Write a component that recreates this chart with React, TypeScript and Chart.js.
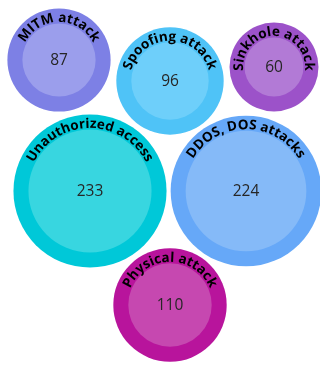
import React, { useEffect, useRef } from "react";
import { Chart, registerables } from "chart.js";

Chart.register(...registerables);

const categories = [
  "MITM attack",
  "Spoofing attack",
  "Sinkhole attack",
  "Unauthorized access",
  "DDOS, DOS attacks",
  "Physical attack",
];
const values = [87, 96, 60, 233, 224, 110];
// bubble layout positions (chart units)
const posX = [59, 170, 274, 90, 246, 170];
const posY = [60, 81, 67, 191, 191, 305];
const outerColors = ["#7d80e5", "#4fc3f7", "#9c52c9", "#00c8d8", "#66a8f8", "#b8149c"];
const innerColors = ["#9b9eec", "#6ecffa", "#b27ad6", "#38d6e0", "#85baf8", "#c648b0"];

const SIZE_K = 8.65;
const RING = 15;
const outerR = (v: number) => SIZE_K * Math.pow(v, 0.4);

const labelPlugin = {
  id: "bubbleLabels",
  afterDatasetsDraw(chart: any) {
    const ctx = chart.ctx;
    const meta = chart.getDatasetMeta(1);
    meta.data.forEach((el: any, i: number) => {
      const cx = el.x;
      const cy = el.y;
      const R = outerR(values[i]);
      // value
      ctx.save();
      ctx.fillStyle = "#262626";
      ctx.font = "15.5px 'Open Sans'";
      ctx.textAlign = "center";
      ctx.textBaseline = "middle";
      ctx.fillText(String(values[i]), cx, cy + 1);
      ctx.restore();
      // curved label
      const text = categories[i];
      ctx.save();
      ctx.fillStyle = "#000";
      ctx.font = "bold 13.5px 'Open Sans'";
      ctx.textAlign = "center";
      ctx.textBaseline = "alphabetic";
      const rad = R - 13.5;
      const spacing = 0;
      const widths = Array.from(text).map((ch) => ctx.measureText(ch).width + spacing);
      const total = widths.reduce((a, b) => a + b, 0);
      let acc = -total / 2;
      Array.from(text).forEach((ch, k) => {
        const ang = (acc + widths[k] / 2) / rad;
        ctx.save();
        ctx.translate(cx, cy);
        ctx.rotate(ang);
        ctx.fillText(ch, 0, -rad);
        ctx.restore();
        acc += widths[k];
      });
      ctx.restore();
    });
  },
};

export default function App() {
  const ref = useRef<HTMLCanvasElement | null>(null);
  useEffect(() => {
    if (!ref.current) return;
    const outerData = values.map((v, i) => ({ x: posX[i], y: posY[i], r: outerR(v) }));
    const innerData = values.map((v, i) => ({ x: posX[i], y: posY[i], r: outerR(v) - RING }));
    const chart = new Chart(ref.current, {
      type: "bubble",
      data: {
        labels: categories,
        datasets: [
          {
            label: "inner",
            data: innerData,
            backgroundColor: innerColors,
            borderWidth: 0,
            hoverBorderWidth: 0,
            clip: false,
          } as any,
          {
            label: "outer",
            data: outerData,
            backgroundColor: outerColors,
            borderWidth: 0,
            hoverBorderWidth: 0,
            clip: false,
          } as any,
        ],
      },
      options: {
        animation: false,
        responsive: false,
        maintainAspectRatio: false,
        events: [],
        layout: { padding: 0, autoPadding: false } as any,
        plugins: { legend: { display: false }, tooltip: { enabled: false } },
        scales: {
          x: { type: "linear", min: 0, max: 320, display: false },
          y: { type: "linear", min: 0, max: 365, reverse: true, display: false },
        },
      },
      plugins: [labelPlugin],
    });
    return () => chart.destroy();
  }, []);
  return (
    <div style={{ position: "absolute", left: 0, top: 0, width: 320, height: 365, background: "#fff" }}>
      <canvas ref={ref} width={320} height={365} style={{ display: "block" }} />
    </div>
  );
}
